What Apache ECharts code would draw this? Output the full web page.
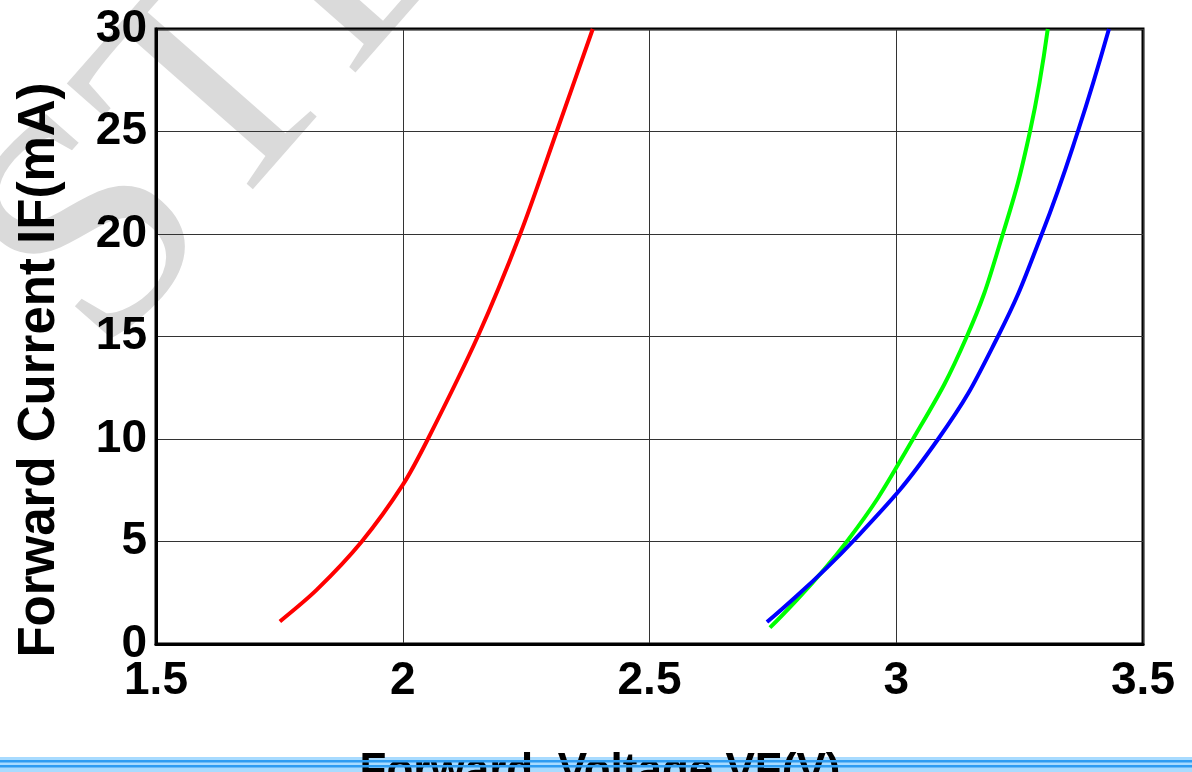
<!DOCTYPE html>
<html>
<head>
<meta charset="utf-8">
<script src="https://cdn.jsdelivr.net/npm/echarts@6/dist/echarts.min.js"></script>
<style>
html,body{margin:0;padding:0;background:#fff;}
#chart{width:1192px;height:772px;}
</style>
</head>
<body>
<div id="chart"></div>
<script>
// Data (VF in volts, IF in mA)
const redCurve = [[1.751,1.1],[1.826,2.65],[1.917,5],[2.0,7.76],[2.051,10],[2.152,15],[2.238,20],[2.312,25],[2.385,30]];
const greenCurve = [[2.744,0.8],[2.900,5],[3.034,10],[3.143,15],[3.216,20],[3.271,25],[3.307,30]];
const blueCurve = [[2.738,1.07],[2.912,5],[3.085,10],[3.206,15],[3.295,20],[3.368,25],[3.431,30]];
const xTicks = [1.5, 2, 2.5, 3, 3.5];
const yTicks = [0, 5, 10, 15, 20, 25, 30];
const xTitle = 'Forward  Voltage VF(V)';
const yTitle = 'Forward Current IF(mA)';
const watermark = 'STL';

const FONT = '"Liberation Sans", Arial, sans-serif';
const chart = echarts.init(document.getElementById('chart'), null, {renderer:'canvas'});

function lineSeries(data, color, s){
  return {
    type:'line', data:data, showSymbol:false, symbol:'none',
    smooth:s,
    lineStyle:{color:color, width:4}, z:5, silent:true
  };
}

chart.setOption({
  backgroundColor:'#ffffff',
  animation:false,
  grid:{left:156, right:49, top:29, bottom:128, show:true, borderColor:'#000', borderWidth:3, backgroundColor:'transparent'},
  xAxis:{
    type:'value', min:xTicks[0], max:xTicks[xTicks.length-1], interval:0.5,
    axisLine:{show:true, lineStyle:{color:'#000', width:3}},
    axisTick:{show:false},
    splitLine:{show:true, lineStyle:{color:'#333', width:1}},
    axisLabel:{color:'#000', fontSize:46, fontWeight:'bold', fontFamily:FONT, margin:14,
      formatter:function(v){return String(v);}}
  },
  yAxis:{
    type:'value', min:yTicks[0], max:yTicks[yTicks.length-1], interval:5,
    axisLine:{show:true, lineStyle:{color:'#000', width:3}},
    axisTick:{show:false},
    splitLine:{show:true, lineStyle:{color:'#333', width:1}},
    axisLabel:{color:'#000', fontSize:46, fontWeight:'bold', fontFamily:FONT, margin:9}
  },
  graphic:[
    {type:'text', z:-10, x:160, y:410, rotation:0.85, style:{text:watermark, fill:'#dadada', font:'320px "Liberation Serif", serif', textVerticalAlign:'bottom'}},
    {type:'rect', z:1, shape:{x:0, y:757, width:1192, height:15}, style:{fill:'#a8dbff'}},
    {type:'text', z:2, x:600, y:772, style:{text:xTitle, fill:'#000', font:'bold 44px '+FONT, textAlign:'center', textVerticalAlign:'middle'}},
    {type:'rect', z:3, shape:{x:0, y:760, width:1192, height:2.5}, style:{fill:'#2e9cf2'}},
    {type:'rect', z:3, shape:{x:0, y:765, width:1192, height:2.5}, style:{fill:'#2e9cf2'}},
    {type:'text', z:2, x:40, y:370, rotation:Math.PI/2, style:{text:yTitle, fill:'#000', font:'bold 51px '+FONT, textAlign:'center', textVerticalAlign:'middle'}}
  ],
  series:[
    lineSeries(redCurve,'#ff0000',0.3),
    lineSeries(greenCurve,'#00ff00',0.45),
    lineSeries(blueCurve,'#0000ff',0.45)
  ]
});
</script>
</body>
</html>
